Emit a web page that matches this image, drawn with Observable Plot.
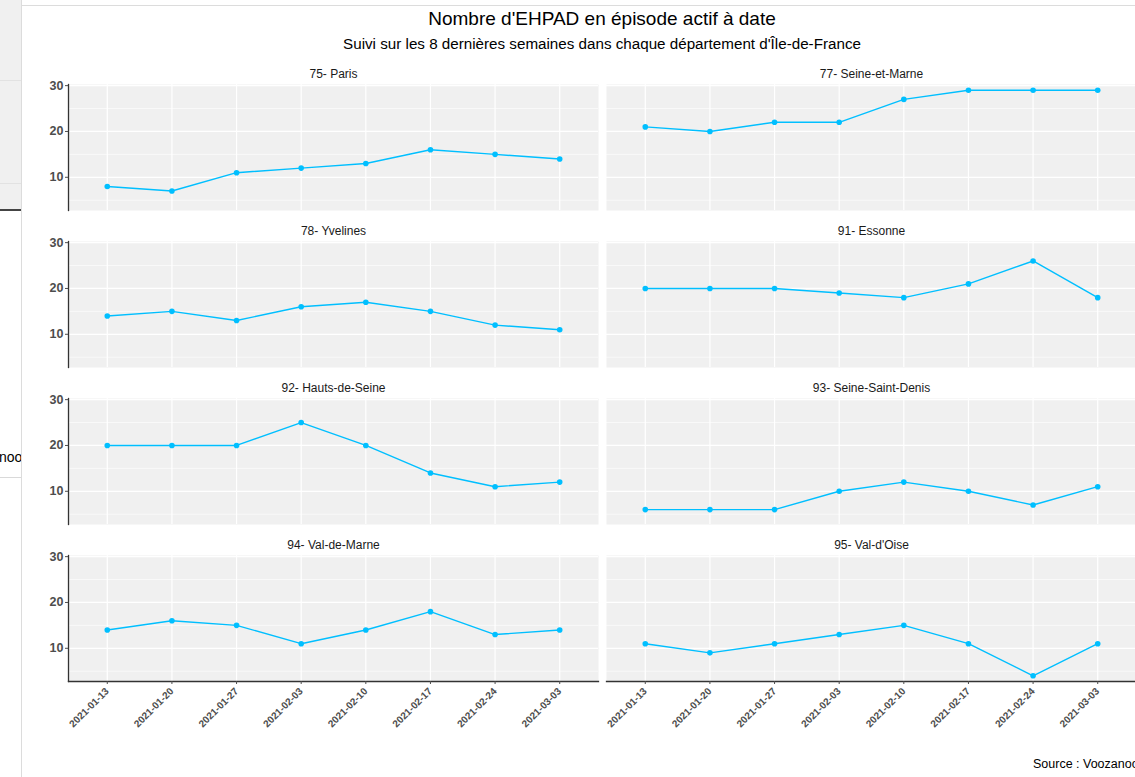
<!DOCTYPE html>
<html>
<head>
<meta charset="utf-8">
<script src="https://cdn.jsdelivr.net/npm/d3@7"></script>
<script src="https://cdn.jsdelivr.net/npm/@observablehq/plot@0.6"></script>
<style>
  html, body { margin: 0; padding: 0; background: #fff; overflow: hidden; width: 1135px; height: 777px; }
  body { position: relative; font-family: "Liberation Sans", Arial, sans-serif; }
  .abs { position: absolute; }
  #title { left: 22px; width: 1160px; top: 8px; text-align: center; font-size: 19px; color: #000; }
  #subtitle { left: 22px; width: 1160px; top: 35px; text-align: center; font-size: 15.2px; color: #000; }
  #caption { left: 1033px; top: 757px; font-size: 12.5px; color: #000; white-space: nowrap; }
  #chart { left: 22px; top: 60px; width: 1125px; }
  #chart svg { max-width: none !important; }
</style>
</head>
<body>
<div class="abs" style="left:0;top:0;width:21px;height:210px;background:#f0f0f0;"></div>
<div class="abs" style="left:0;top:80px;width:21px;height:1px;background:#e2e2e2;"></div>
<div class="abs" style="left:0;top:183px;width:21px;height:1px;background:#e2e2e2;"></div>
<div class="abs" style="left:0;top:209px;width:21px;height:2px;background:#444;"></div>
<div class="abs" style="left:0;top:477px;width:21px;height:1px;background:#d9d9d9;"></div>
<div class="abs" style="left:0;top:449px;width:21px;height:18px;overflow:hidden;font-size:14px;"><span style="position:absolute;left:-1px;top:0;">noo</span></div>
<div class="abs" style="left:21px;top:0;width:1px;height:777px;background:#dcdcdc;"></div>
<div class="abs" style="left:22px;top:5px;width:1113px;height:1px;background:#dcdcdc;"></div>

<div id="title" class="abs">Nombre d'EHPAD en épisode actif à date</div>
<div id="subtitle" class="abs">Suivi sur les 8 dernières semaines dans chaque département d'Île-de-France</div>
<div id="chart" class="abs"></div>
<div id="caption" class="abs">Source : Voozanoo</div>

<script>
const dates = ["2021-01-13", "2021-01-20", "2021-01-27", "2021-02-03", "2021-02-10", "2021-02-17", "2021-02-24", "2021-03-03"];
const departements = ["75- Paris", "77- Seine-et-Marne", "78- Yvelines", "91- Essonne", "92- Hauts-de-Seine", "93- Seine-Saint-Denis", "94- Val-de-Marne", "95- Val-d'Oise"];
const v75 = [8, 7, 11, 12, 13, 16, 15, 14];
const v77 = [21, 20, 22, 22, 27, 29, 29, 29];
const v78 = [14, 15, 13, 16, 17, 15, 12, 11];
const v91 = [20, 20, 20, 19, 18, 21, 26, 18];
const v92 = [20, 20, 20, 25, 20, 14, 11, 12];
const v93 = [6, 6, 6, 10, 12, 10, 7, 11];
const v94 = [14, 16, 15, 11, 14, 18, 13, 14];
const v95 = [11, 9, 11, 13, 15, 11, 4, 11];
const yTicks = [10, 20, 30];
const yMinor = [5, 15, 25];
const yDomain = [2.75, 30.25];

const series = [v75, v77, v78, v91, v92, v93, v94, v95];
const facets = departements.map((d, i) => ({dept: d, col: i % 2, row: Math.floor(i / 2)}));
const data = facets.flatMap((f, i) => series[i].map((v, j) => ({...f, date: dates[j], value: v})));

const blue = "#00BFFF";
const chart = Plot.plot({
  width: 1125,
  height: 696,
  marginLeft: 46,
  marginRight: 11,
  marginTop: 24,
  marginBottom: 75,
  style: {fontFamily: "'Liberation Sans', Arial, sans-serif", background: "white", overflow: "visible", maxWidth: "none"},
  fx: {domain: [0, 1], paddingInner: 8 / 538, paddingOuter: 0, axis: null, round: false},
  fy: {domain: [0, 1, 2, 3], paddingInner: 31 / 157, paddingOuter: 0, axis: null, round: false},
  x: {type: "point", domain: dates, padding: 0.6, round: false},
  y: {domain: yDomain},
  marks: [
    Plot.frame({fill: "#f0f0f0", stroke: null}),
    Plot.ruleY(yMinor, {stroke: "white", strokeWidth: 0.6}),
    Plot.ruleY(yTicks, {stroke: "white", strokeWidth: 1.2}),
    Plot.ruleX(dates, {stroke: "white", strokeWidth: 1.2}),
    Plot.line(data, {x: "date", y: "value", z: "dept", fx: "col", fy: "row", stroke: blue, strokeWidth: 1.4}),
    Plot.dot(data, {x: "date", y: "value", fx: "col", fy: "row", fill: blue, r: 2.8}),
    Plot.frame({anchor: "left", facetAnchor: "left", stroke: "#333", strokeWidth: 1.3}),
    Plot.frame({anchor: "bottom", facetAnchor: "bottom", stroke: "#333", strokeWidth: 1.3}),
    Plot.axisY({ticks: yTicks, tickSize: 3, tickPadding: 2, fontSize: 12.5, fontWeight: "bold", color: "#4d4d4d", label: null}),
    Plot.axisX({tickRotate: -45, tickSize: 3, tickPadding: 5, fontSize: 10, fontWeight: "bold", color: "#4d4d4d", label: null}),
    Plot.text(facets, {fx: "col", fy: "row", text: "dept", frameAnchor: "top", dy: -15, fontSize: 12, fill: "#1a1a1a"})
  ]
});
document.getElementById("chart").appendChild(chart);
</script>
</body>
</html>
